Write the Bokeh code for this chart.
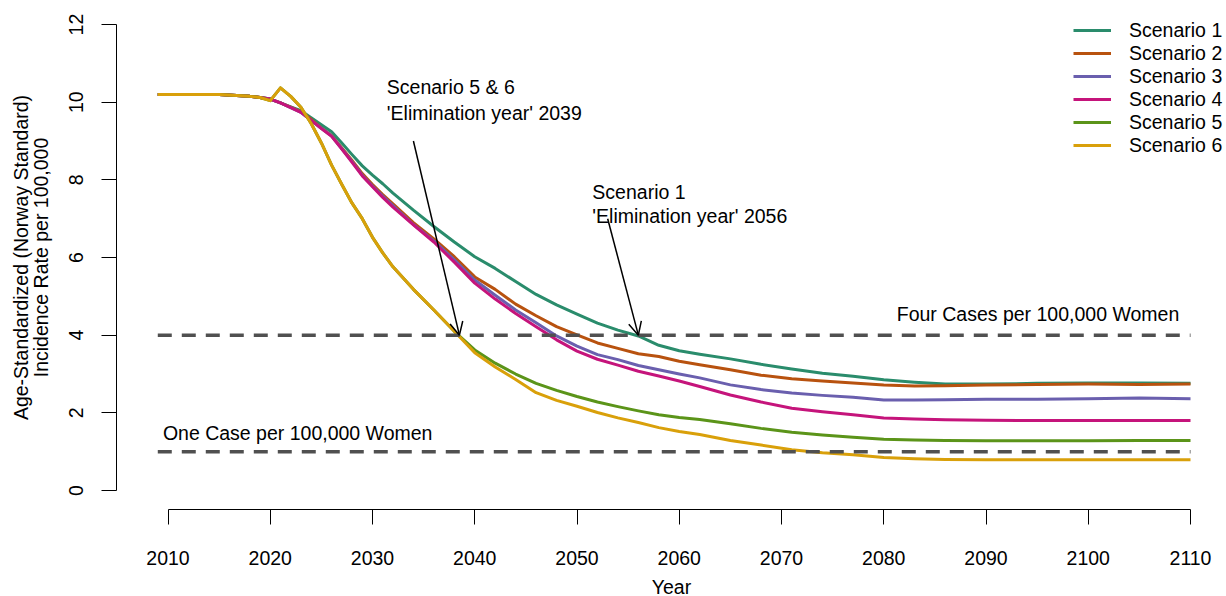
from bokeh.plotting import figure
from bokeh.models import (Range1d, LinearAxis, FixedTicker, Legend, LegendItem,
                          Arrow, OpenHead, Label, ColumnDataSource)
from bokeh.embed import file_html
from bokeh.resources import INLINE

# ---------------- data ----------------
years = [2009, 2012, 2015, 2018, 2019,
         2020, 2021, 2022, 2023, 2024, 2025, 2026, 2027, 2028, 2029, 2030, 2031,
         2032, 2034, 2036, 2038, 2040, 2042, 2044, 2046, 2048, 2050, 2052, 2054, 2056, 2058, 2060, 2062,
         2065, 2068, 2071, 2074, 2077, 2080, 2083, 2086,
         2090, 2095, 2100, 2105, 2110]

scenario1 = [10.2, 10.2, 10.2, 10.15, 10.12,
             10.08, 9.98, 9.88, 9.78, 9.60, 9.42, 9.24, 8.95, 8.65, 8.36, 8.12, 7.90,
             7.66, 7.22, 6.80, 6.40, 6.02, 5.72, 5.38, 5.05, 4.78, 4.54, 4.31, 4.13, 3.98, 3.74, 3.60, 3.51,
             3.39, 3.25, 3.13, 3.02, 2.94, 2.85, 2.79, 2.74,
             2.74, 2.76, 2.77, 2.77, 2.76]
scenario2 = [10.2, 10.2, 10.2, 10.15, 10.12,
             10.08, 9.98, 9.87, 9.76, 9.56, 9.34, 9.14, 8.82, 8.50, 8.16, 7.88, 7.62,
             7.38, 6.90, 6.48, 6.02, 5.50, 5.18, 4.80, 4.50, 4.22, 4.01, 3.80, 3.66, 3.52, 3.45, 3.33, 3.24,
             3.11, 2.97, 2.88, 2.82, 2.77, 2.72, 2.69, 2.70,
             2.72, 2.73, 2.74, 2.73, 2.74]
scenario3 = [10.2, 10.2, 10.2, 10.15, 10.12,
             10.08, 9.98, 9.86, 9.74, 9.53, 9.33, 9.13, 8.80, 8.47, 8.12, 7.84, 7.58,
             7.34, 6.85, 6.43, 5.94, 5.42, 5.03, 4.65, 4.32, 3.98, 3.72, 3.50, 3.37, 3.22, 3.11, 3.00, 2.90,
             2.72, 2.60, 2.51, 2.45, 2.40, 2.33, 2.33, 2.34,
             2.35, 2.35, 2.36, 2.38, 2.36]
scenario4 = [10.2, 10.2, 10.2, 10.15, 10.12,
             10.08, 9.98, 9.86, 9.74, 9.53, 9.32, 9.12, 8.79, 8.45, 8.10, 7.82, 7.55,
             7.30, 6.84, 6.40, 5.88, 5.34, 4.93, 4.56, 4.22, 3.88, 3.59, 3.38, 3.23, 3.07, 2.95, 2.82, 2.68,
             2.46, 2.28, 2.12, 2.03, 1.95, 1.87, 1.84, 1.82,
             1.81, 1.80, 1.80, 1.80, 1.80]
scenario5 = [10.2, 10.2, 10.2, 10.15, 10.12,
             10.04, 10.37, 10.15, 9.87, 9.45, 8.95, 8.38, 7.88, 7.40, 7.00, 6.52, 6.12,
             5.76, 5.18, 4.65, 4.10, 3.62, 3.28, 3.00, 2.76, 2.58, 2.42, 2.28, 2.16, 2.05, 1.95, 1.88, 1.83,
             1.72, 1.60, 1.50, 1.43, 1.37, 1.32, 1.30, 1.29,
             1.28, 1.28, 1.28, 1.29, 1.29]
scenario6 = [10.2, 10.2, 10.2, 10.15, 10.12,
             10.04, 10.37, 10.15, 9.87, 9.45, 8.95, 8.38, 7.88, 7.40, 7.00, 6.52, 6.12,
             5.76, 5.18, 4.65, 4.10, 3.55, 3.18, 2.86, 2.52, 2.32, 2.17, 2.01, 1.87, 1.75, 1.62, 1.52, 1.44,
             1.29, 1.17, 1.05, 0.97, 0.92, 0.85, 0.82, 0.80,
             0.79, 0.79, 0.79, 0.79, 0.79]

series_names = ["Scenario 1", "Scenario 2", "Scenario 3", "Scenario 4", "Scenario 5", "Scenario 6"]
series_values = [scenario1, scenario2, scenario3, scenario4, scenario5, scenario6]
series_colors = ["#2A8C6C", "#B8520F", "#6A5FAE", "#C5147B", "#5B9419", "#D9A00A"]

x_ticks = [2010, 2020, 2030, 2040, 2050, 2060, 2070, 2080, 2090, 2100, 2110]
y_ticks = [0, 2, 4, 6, 8, 10, 12]

ref_levels = [4, 1]
ref_x = [2009, 2110]
ref_texts = ["Four Cases per 100,000 Women", "One Case per 100,000 Women"]
ref_text_x = [2108.9, 2009.5]
ref_text_y = [4.55, 1.49]
ref_text_align = ["right", "left"]

note_lines = [["Scenario 5 & 6", "'Elimination year' 2039"],
              ["Scenario 1", "'Elimination year' 2056"]]
note_x = [2031.4, 2051.5]
note_y = [[10.40, 9.73], [7.70, 7.06]]
arrow_start = [(2034.0, 9.0), (2053.0, 7.0)]
arrow_end = [(2038.5, 4.0), (2056.0, 4.0)]

FONT = "Liberation Sans"
FS = "19.5px"

# ---------------- figure ----------------
p = figure(frame_width=1110, frame_height=504,
           min_border_left=116, min_border_right=0, min_border_top=5, min_border_bottom=80,
           x_range=Range1d(2004.963, 2113.52), y_range=Range1d(-0.489, 12.49),
           x_axis_type=None, y_axis_type=None,
           output_backend="svg", toolbar_location=None)
p.outline_line_color = None
p.background_fill_color = "white"
p.border_fill_color = "white"

xaxis = LinearAxis(ticker=FixedTicker(ticks=x_ticks), bounds=(2010, 2110), axis_label="Year")
yaxis = LinearAxis(ticker=FixedTicker(ticks=y_ticks), bounds=(0, 12),
                   axis_label="Age-Standardized (Norway Standard)\nIncidence Rate per 100,000")
for ax in (xaxis, yaxis):
    ax.major_tick_out = 15
    ax.major_tick_in = 0
    ax.minor_tick_out = 0
    ax.minor_tick_in = 0
    ax.axis_line_color = "black"
    ax.axis_line_width = 1
    ax.major_tick_line_color = "black"
    ax.major_label_text_font = FONT
    ax.major_label_text_font_size = FS
    ax.major_label_text_color = "black"
    ax.axis_label_text_font = FONT
    ax.axis_label_text_font_size = FS
    ax.axis_label_text_font_style = "normal"
    ax.axis_label_text_color = "black"
xaxis.major_label_standoff = 26
xaxis.axis_label_standoff = 8
yaxis.major_label_orientation = "vertical"
yaxis.major_label_standoff = 18
yaxis.axis_label_standoff = 15
yaxis.axis_label_text_line_height = 0.9
p.add_layout(xaxis, "below")
p.add_layout(yaxis, "left")

renderers = []
for name, vals, col in zip(series_names, series_values, series_colors):
    src = ColumnDataSource(dict(x=years, y=vals))
    r = p.line("x", "y", source=src, line_color=col, line_width=3, line_join="round")
    renderers.append(r)

for lvl in ref_levels:
    p.line(ref_x, [lvl, lvl], line_color="#505050", line_width=3.5, line_dash="14 10")

for t, tx, ty, ta in zip(ref_texts, ref_text_x, ref_text_y, ref_text_align):
    p.add_layout(Label(x=tx, y=ty, text=t, text_font=FONT, text_font_size=FS,
                       text_align=ta, text_baseline="middle", text_color="black"))

for lines, nx, nys in zip(note_lines, note_x, note_y):
    for t, ny in zip(lines, nys):
        p.add_layout(Label(x=nx, y=ny, text=t, text_font=FONT, text_font_size=FS,
                           text_align="left", text_baseline="middle", text_color="black"))

for (x0, y0), (x1, y1) in zip(arrow_start, arrow_end):
    p.add_layout(Arrow(end=OpenHead(size=13, line_width=1.5, line_color="black"),
                       x_start=x0, y_start=y0, x_end=x1, y_end=y1,
                       line_width=1.5, line_color="black"))

legend = Legend(items=[LegendItem(label=n, renderers=[r]) for n, r in zip(series_names, renderers)],
                location=(957, 352.4), orientation="vertical",
                glyph_width=38, glyph_height=22, label_height=22, label_standoff=18,
                spacing=0, padding=0, margin=0,
                border_line_color=None, background_fill_alpha=0,
                label_text_font=FONT, label_text_font_size=FS, label_text_color="black")
p.add_layout(legend)

open("out.html", "w").write(file_html(p, INLINE))
